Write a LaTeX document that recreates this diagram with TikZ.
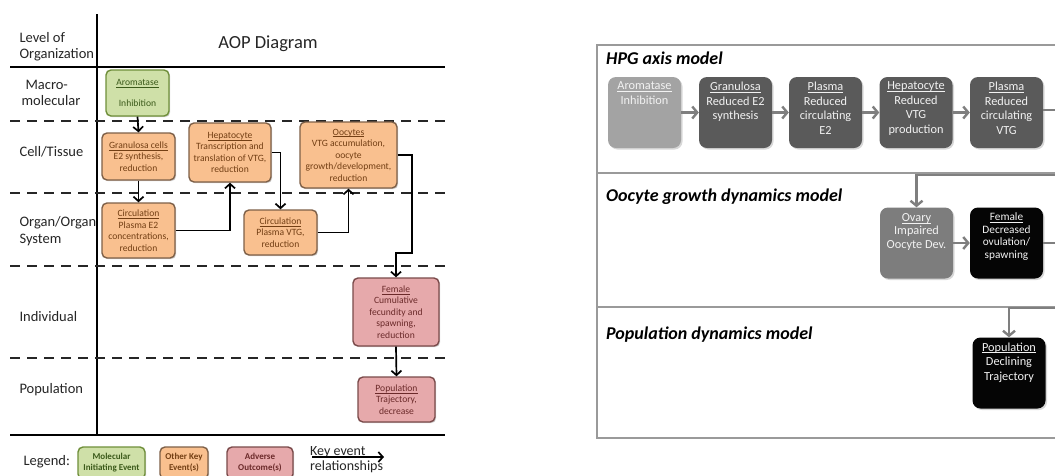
\documentclass[tikz,border=0pt]{standalone}
\usepackage{fontspec}
\setmainfont{Carlito}
\usetikzlibrary{arrows.meta,shadows,positioning}
\newcommand\ulx[1]{\underline{\raisebox{0pt}[\height][0pt]{#1}}}
\definecolor{mieFill}{HTML}{CFE0A8}
\definecolor{mieDraw}{HTML}{6F8F3A}
\definecolor{mieText}{HTML}{3B5A1A}
\definecolor{okeFill}{HTML}{F9C08F}
\definecolor{okeDraw}{HTML}{7E6048}
\definecolor{okeText}{HTML}{733F14}
\definecolor{aoFill}{HTML}{E6A9AB}
\definecolor{aoDraw}{HTML}{7A4A4A}
\definecolor{aoText}{HTML}{6B2A2A}
\definecolor{lblText}{HTML}{262626}
\definecolor{frameGray}{HTML}{9A9A9A}
\definecolor{connGray}{HTML}{7F7F7F}
\definecolor{boxLight}{HTML}{A3A3A3}
\definecolor{boxDark}{HTML}{5A5A5A}
\definecolor{boxMid}{HTML}{7D7D7D}
\definecolor{boxBlack}{HTML}{050505}
\begin{document}
\begin{tikzpicture}[x=1pt,y=-1pt,
  lbox/.style={draw, rounded corners=5pt, line width=1.4pt, align=center, inner sep=1pt,
    drop shadow={opacity=0.35, shadow xshift=1.2pt, shadow yshift=-1.2pt},
    font=\fontsize{9.6}{11.5}\selectfont},
  mie/.style={lbox, fill=mieFill, draw=mieDraw, text=mieText},
  oke/.style={lbox, fill=okeFill, draw=okeDraw, text=okeText},
  ao/.style={lbox, fill=aoFill, draw=aoDraw, text=aoText},
  legbox/.style={font=\bfseries\fontsize{9}{11}\selectfont},
  rowlbl/.style={anchor=west, align=left, text=lblText, font=\fontsize{14.5}{16.5}\selectfont},
  levline/.style={line width=2pt, black},
  dashline/.style={line width=2.2pt, black!85, dash pattern=on 10pt off 7pt},
  larr/.style={line width=1.7pt, black, -{Straight Barb[length=4.5pt,width=10pt,line width=1.7pt]}},
  rbox/.style={rounded corners=8pt, minimum width=73pt, minimum height=71pt, inner sep=0pt,
    drop shadow={opacity=0.3, shadow xshift=1.5pt, shadow yshift=-1.5pt}},
  rtext/.style={align=center, inner sep=0pt, text=white!95!black, font=\fontsize{12.3}{14.5}\selectfont},
  rhead/.style={anchor=west, inner sep=0pt, font=\bfseries\itshape\fontsize{18}{20}\selectfont},
  frame/.style={line width=1.2pt, frameGray},
  rarr/.style={line width=2.4pt, connGray, -{Straight Barb[length=5pt,width=12pt,line width=2.4pt]}},
  rline/.style={line width=2.4pt, connGray}
]
\useasboundingbox (0,0) rectangle (1055,475);
\clip (0,0) rectangle (1055,475);
\fill[white] (0,0) rectangle (1055,475);

%% ================= LEFT PANEL =================
\draw[levline] (97,14) -- (97,435);
\draw[levline] (10,67) -- (445,67);
\draw[levline] (10,435) -- (445,435);
\foreach \yy in {121,193,266,358} \draw[dashline] (10,\yy) -- (445,\yy);

\node[rowlbl] (lvl) at (16,46.5) {Level of\\Organization};
\node[anchor=center, font=\fontsize{18.5}{20}\selectfont, text=lblText] (aop) at (268,44) {AOP Diagram};
\node[rowlbl] (macro) at (18,93) {\hspace*{4pt}Macro-\\molecular};
\node[rowlbl] (cell) at (16,152) {Cell/Tissue};
\node[rowlbl] (organ) at (16,231) {Organ/Organ\\System};
\node[rowlbl] (indiv) at (16,317) {Individual};
\node[rowlbl] (popl) at (16,390) {Population};

\node[mie, minimum width=63pt, minimum height=46pt] (arom) at (137.5,93) {\ulx{Aromatase}\\[9pt]Inhibition};
\node[oke, minimum width=73pt, minimum height=47pt] (gran) at (138.5,156.5) {\ulx{Granulosa cells}\\E2 synthesis,\\reduction};
\node[oke, minimum width=82pt, minimum height=59pt] (hep) at (230,152.5) {\ulx{Hepatocyte}\\Transcription and\\translation of VTG,\\reduction};
\node[oke, minimum width=97pt, minimum height=66pt] (ooc) at (348.5,155) {\ulx{Oocytes}\\VTG accumulation,\\oocyte\\growth/development,\\reduction};
\node[oke, minimum width=73pt, minimum height=55pt] (circa) at (138.5,230.5) {\ulx{Circulation}\\Plasma E2\\concentrations,\\reduction};
\node[oke, minimum width=73pt, minimum height=45pt] (circb) at (280.5,232.5) {\ulx{Circulation}\\Plasma VTG,\\reduction};
\node[ao, minimum width=86pt, minimum height=68pt] (fem) at (396,312) {\ulx{Female}\\Cumulative\\fecundity and\\spawning,\\reduction};
\node[ao, minimum width=77pt, minimum height=45pt] (pop) at (396.5,399.5) {\ulx{Population}\\Trajectory,\\decrease};

\coordinate (ja) at (412,253);
\coordinate (jb) at (396,253);
\draw[larr] (arom.south) -- (gran.north);
\draw[larr] (gran.south) -- (circa.north);
\draw[larr] (circa.east) -| (hep.south);
\draw[larr] (hep.east) -| (circb.north);
\draw[larr] (circb.east) -| (ooc.south);
\draw[larr] (ooc.east) -| (ja) -- (jb) -- (fem.north);
\draw[larr] (fem.south) -- (pop.north);

% legend
\node[anchor=west, text=lblText, font=\fontsize{14.5}{16.5}\selectfont] (legend) at (20,462) {Legend:};
\node[mie, legbox, minimum width=67pt, minimum height=32pt] (lg1) at (111.5,463) {Molecular\\Initiating Event};
\node[oke, legbox, minimum width=48pt, minimum height=32pt] (lg2) at (184,463) {Other Key\\Event(s)};
\node[ao, legbox, minimum width=66pt, minimum height=32pt] (lg3) at (260,463) {Adverse\\Outcome(s)};
\node[anchor=west, align=left, inner sep=0pt, text=lblText, font=\fontsize{14}{15}\selectfont] (kerl) at (310,459.5) {Key event\\relationships};
\coordinate (kra) at (312,457);
\coordinate (krb) at (384,457);
\draw[larr] (kra) -- (krb);

%% ================= RIGHT PANEL =================
\draw[frame] (1070,45) -- (597,45) -- (597,438) -- (1070,438);
\draw[frame] (597,173) -- (1070,173);
\draw[frame] (597,307) -- (1070,307);

\node[rhead] (h1) at (606,58) {HPG axis model};
\node[rhead] (h2) at (606,197) {Oocyte growth dynamics model};
\node[rhead] (h3) at (606,335) {Population dynamics model};

\node[rbox, fill=boxLight] (r1) at (644.5,112.5) {};
\node[rbox, fill=boxDark] (r2) at (735.5,112.5) {};
\node[rbox, fill=boxDark] (r3) at (825.5,112.5) {};
\node[rbox, fill=boxDark] (r4) at (916,112.5) {};
\node[rbox, fill=boxDark] (r5) at (1006.5,112.5) {};
\node[rbox, fill=boxMid] (ov) at (916.5,243) {};
\node[rbox, fill=boxBlack] (fe) at (1006.5,243) {};
\node[rbox, fill=boxBlack] (po) at (1009,373) {};

\node[rtext, below=5pt of r1.north] (r1t) {\ulx{Aromatase}\\Inhibition};
\node[rtext, below=5pt of r2.north] (r2t) {\ulx{Granulosa}\\Reduced E2\\synthesis};
\node[rtext, below=5pt of r3.north] (r3t) {\ulx{Plasma}\\Reduced\\circulating\\E2};
\node[rtext, below=5pt of r4.north] (r4t) {\ulx{Hepatocyte}\\Reduced\\VTG\\production};
\node[rtext, below=5pt of r5.north] (r5t) {\ulx{Plasma}\\Reduced\\circulating\\VTG};
\node[rtext, below=6pt of ov.north, font=\fontsize{12.3}{13.5}\selectfont] (ovt) {\ulx{Ovary}\\Impaired\\Oocyte Dev.};
\node[rtext, below=5pt of fe.north, font=\fontsize{11.3}{12.7}\selectfont] (fet) {\ulx{Female}\\Decreased\\ovulation/\\spawning};
\node[rtext, below=5pt of po.north] (pot) {\ulx{Population}\\Declining\\Trajectory};

\draw[rarr] (r1.east) -- (r2.west);
\draw[rarr] (r2.east) -- (r3.west);
\draw[rarr] (r3.east) -- (r4.west);
\draw[rarr] (r4.east) -- (r5.west);
\draw[rarr] (ov.east) -- (fe.west);

\coordinate (e1) at (1062,110);
\coordinate (e2) at (1062,175);
\coordinate (e3) at (1062,308);
\draw[rline] (r5.east |- e1) -- (e1);
\draw[rarr] (e2) -| (ov.north);
\draw[rline] (fe.east) -- (fe.east -| e1);
\draw[rarr] (e3) -| (po.north);
\end{tikzpicture}
\end{document}
